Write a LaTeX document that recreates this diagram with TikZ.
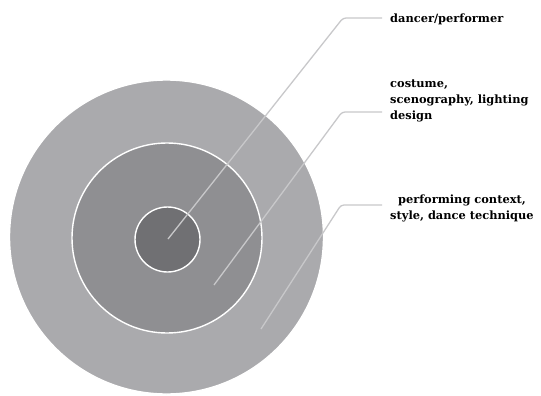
\documentclass[tikz,border=0pt]{standalone}
\usepackage{fontspec}
\setmainfont{DejaVu Serif}
\usetikzlibrary{calc}
\definecolor{ringouter}{RGB}{170,170,173}
\definecolor{ringmid}{RGB}{143,143,146}
\definecolor{ringinner}{RGB}{112,112,115}
\definecolor{leader}{RGB}{200,200,202}
\tikzset{
  ring/.style={circle, draw=white, line width=1.4pt, inner sep=0pt, outer sep=0pt},
  lbl/.style={font=\fontsize{11.4}{16.3}\selectfont\bfseries, inner sep=0pt, text=black},
  leaderline/.style={draw=leader, line width=1.3pt, rounded corners=3pt}
}
\begin{document}
\begin{tikzpicture}[x=1pt,y=-1pt]
\useasboundingbox (0,0) rectangle (541,396);
\node[ring, fill=ringouter, minimum size=314pt] (outer) at (166.5,237) {};
\node[ring, fill=ringmid, minimum size=190pt] (mid) at (167,238) {};
\node[ring, fill=ringinner, minimum size=65pt] (inner) at (167.5,239.5) {};
\node[lbl, anchor=west] (t1) at (390,19.5) {dancer/performer};
\node[lbl, anchor=west, align=left] (t2) at (390,101) {costume,\\scenography, lighting\\design};
\node[lbl, anchor=west, align=center] (t3) at (390,208.5) {performing context,\\style, dance technique};
\coordinate (s1) at (168,239);
\coordinate (b1) at (343,18);
\coordinate (s2) at (214,285);
\coordinate (b2) at (342,112);
\coordinate (s3) at (261,329);
\coordinate (b3) at (341,205);
\draw[leaderline] (s1) -- (b1) -- ([xshift=-8pt]b1 -| t1.west);
\draw[leaderline] (s2) -- (b2) -- ([xshift=-8pt]b2 -| t2.west);
\draw[leaderline] (s3) -- (b3) -- ([xshift=-8pt]b3 -| t3.west);
\end{tikzpicture}
\end{document}
